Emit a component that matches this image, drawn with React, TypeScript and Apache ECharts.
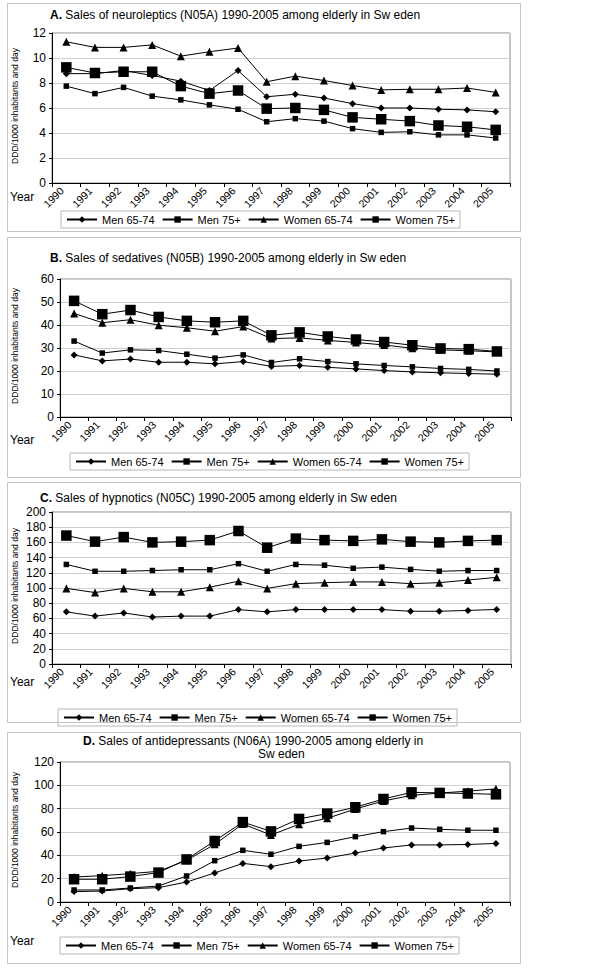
import React, { useEffect, useRef } from "react";
import * as echarts from "echarts";

const years = ["1990", "1991", "1992", "1993", "1994", "1995", "1996", "1997", "1998", "1999", "2000", "2001", "2002", "2003", "2004", "2005"];
const seriesNames = ["Men 65-74", "Men 75+", "Women 65-74", "Women 75+"];

// A. Neuroleptics (N05A)
const neuroMen6574 = [8.75, 8.75, 9.0, 8.6, 8.15, 7.4, 9.0, 6.9, 7.1, 6.8, 6.35, 6.0, 6.0, 5.9, 5.85, 5.7];
const neuroMen75 = [7.75, 7.15, 7.65, 6.95, 6.65, 6.25, 5.9, 4.9, 5.15, 4.95, 4.35, 4.05, 4.1, 3.85, 3.85, 3.6];
const neuroWomen6574 = [11.3, 10.85, 10.85, 11.05, 10.15, 10.5, 10.8, 8.1, 8.55, 8.2, 7.8, 7.45, 7.5, 7.5, 7.6, 7.25];
const neuroWomen75 = [9.25, 8.8, 8.9, 8.9, 7.75, 7.15, 7.4, 5.95, 6.0, 5.85, 5.25, 5.1, 4.95, 4.6, 4.5, 4.25];
const neuroTicks = [0, 2, 4, 6, 8, 10, 12];

// B. Sedatives (N05B)
const sedMen6574 = [27.0, 24.4, 25.2, 23.8, 23.8, 23.1, 24.1, 22.0, 22.4, 21.6, 20.9, 20.2, 19.6, 19.2, 18.9, 18.6];
const sedMen75 = [33.0, 27.8, 29.2, 28.9, 27.3, 25.6, 27.0, 23.7, 25.3, 24.1, 23.1, 22.4, 21.8, 21.1, 20.7, 20.0];
const sedWomen6574 = [45.0, 41.0, 42.3, 39.9, 38.8, 37.3, 39.3, 34.1, 34.4, 33.3, 32.4, 31.3, 29.9, 29.2, 28.8, 28.3];
const sedWomen75 = [50.5, 44.7, 46.5, 43.5, 41.8, 41.2, 41.8, 35.5, 36.8, 35.0, 33.7, 32.6, 31.2, 29.8, 29.5, 28.5];
const sedTicks = [0, 10, 20, 30, 40, 50, 60];

// C. Hypnotics (N05C)
const hypMen6574 = [68.6, 63, 67.2, 61.8, 63, 63, 71.6, 68.6, 71.6, 71.6, 71.6, 71.6, 69.4, 69.4, 70.5, 71.8];
const hypMen75 = [131, 122, 122, 123, 124, 124, 132, 122, 131, 130, 126, 127.5, 124.5, 122, 123, 123];
const hypWomen6574 = [99.5, 94, 99.5, 95, 95, 101, 109, 99.5, 105.7, 107, 108, 108, 105.7, 107, 110.5, 114];
const hypWomen75 = [169, 161, 167, 160, 161, 163, 175, 153, 165, 163, 162, 164, 161, 160, 162, 163];
const hypTicks = [0, 20, 40, 60, 80, 100, 120, 140, 160, 180, 200];

// D. Antidepressants (N06A)
const antiMen6574 = [8.9, 9.4, 11.4, 12.3, 17.1, 24.9, 33.1, 30.3, 35.1, 37.7, 42, 46.3, 48.9, 48.9, 49.3, 50.2];
const antiMen75 = [10.3, 10.3, 12, 13.7, 22.3, 35.4, 44.3, 40.9, 47.7, 51.1, 56, 60.3, 63.4, 62.3, 61.5, 61.5];
const antiWomen6574 = [21.4, 22.6, 24.3, 26.3, 35.7, 49.4, 66.9, 57.4, 66.6, 71.7, 79.7, 86.6, 91.4, 93.4, 95, 97];
const antiWomen75 = [19.5, 19.5, 21.8, 25.2, 36.5, 52.3, 68.5, 60.5, 71.2, 75.8, 81.2, 88.3, 94, 93.5, 93, 92.3];
const antiTicks = [0, 20, 40, 60, 80, 100, 120];

const titleLetters = ["A.", "B.", "C.", "D."];
const titleTexts = [
  " Sales of neuroleptics (N05A) 1990-2005 among elderly in Sw eden",
  " Sales of sedatives (N05B) 1990-2005 among elderly in Sw eden",
  " Sales of hypnotics (N05C) 1990-2005 among elderly in Sw eden",
  " Sales of antidepressants (N06A) 1990-2005 among elderly in",
];
const titleDSecondLine = "Sw eden";
const yAxisName = "DDD/1000 inhabitants and day";
const yearLabel = "Year";

const FONT = "Liberation Sans";

export default function App() {
  const ref = useRef<HTMLDivElement>(null);

  useEffect(() => {
    const chart = echarts.init(ref.current!, null, { renderer: "svg" });

    const panelData = [
      [neuroMen6574, neuroMen75, neuroWomen6574, neuroWomen75],
      [sedMen6574, sedMen75, sedWomen6574, sedWomen75],
      [hypMen6574, hypMen75, hypWomen6574, hypWomen75],
      [antiMen6574, antiMen75, antiWomen6574, antiWomen75],
    ];
    const panelTicks = [neuroTicks, sedTicks, hypTicks, antiTicks];

    // layout
    const boxes = [
      { y: 3, h: 228 },
      { y: 237, h: 240 },
      { y: 482, h: 240 },
      { y: 732, h: 231 },
    ];
    const grids = [
      { left: 52, top: 33, width: 458, height: 150 },
      { left: 60, top: 279, width: 451, height: 138 },
      { left: 52, top: 512, width: 459, height: 152 },
      { left: 60, top: 762, width: 450, height: 140 },
    ];
    const legendPos = [
      { left: 61, top: 211 },
      { left: 70, top: 453 },
      { left: 58, top: 709 },
      { left: 60, top: 937 },
    ];
    const titlePos = [
      { x: 50, y: 15 },
      { x: 50, y: 258 },
      { x: 40, y: 498 },
      { x: 83, y: 741 },
    ];
    const titleD2Pos = { x: 258, y: 754 };
    const yearY = [197, 440, 682, 941];

    const symbols = [
      { symbol: "diamond", size: 7 },
      { symbol: "rect", size: 5.5 },
      { symbol: "triangle", size: 8 },
      { symbol: "rect", size: 10.5 },
    ];

    const series: any[] = [];
    panelData.forEach((arrs, p) => {
      arrs.forEach((vals, k) => {
        series.push({
          type: "line",
          name: seriesNames[k],
          xAxisIndex: p,
          yAxisIndex: p,
          data: vals,
          symbol: symbols[k].symbol,
          symbolSize: symbols[k].size,
          showSymbol: true,
          lineStyle: { color: "#000", width: 1 },
          itemStyle: { color: "#000" },
          emphasis: { disabled: true },
          z: 3 + k,
        });
      });
    });

    const graphics: any[] = [];
    boxes.forEach((b) => {
      graphics.push({
        type: "rect",
        shape: { x: 7.5, y: b.y + 0.5, width: 513, height: b.h },
        style: { fill: "none", stroke: "#c4c4c4", lineWidth: 1 },
        z: 0,
        silent: true,
      });
    });
    titlePos.forEach((t, p) => {
      graphics.push({
        type: "text",
        x: t.x,
        y: t.y,
        style: {
          text: "{b|" + titleLetters[p] + "}" + titleTexts[p],
          rich: { b: { fontWeight: "bold", fontSize: 12, fontFamily: FONT, fill: "#000" } },
          fontSize: 12,
          fontFamily: FONT,
          fill: "#000",
          align: "left",
          verticalAlign: "middle",
        },
        z: 10,
      });
    });
    graphics.push({
      type: "text",
      x: titleD2Pos.x,
      y: titleD2Pos.y,
      style: {
        text: titleDSecondLine,
        fontSize: 12,
        fontFamily: FONT,
        fill: "#000",
        align: "left",
        verticalAlign: "middle",
      },
      z: 10,
    });
    grids.forEach((g, p) => {
      graphics.push({
        type: "text",
        x: 15,
        y: g.top + g.height / 2 - 2,
        rotation: Math.PI / 2,
        style: {
          text: yAxisName,
          fontSize: 8.5,
          fontFamily: FONT,
          fill: "#000",
          align: "center",
          verticalAlign: "middle",
        },
        z: 10,
      });
      graphics.push({
        type: "text",
        x: 10,
        y: yearY[p],
        style: {
          text: yearLabel,
          fontSize: 12,
          fontFamily: FONT,
          fill: "#000",
          align: "left",
          verticalAlign: "middle",
        },
        z: 10,
      });
    });

    const option: any = {
      animation: false,
      backgroundColor: "#fff",
      grid: grids.map((g) => ({
        ...g,
        show: true,
        borderColor: "#8c8c8c",
        borderWidth: 1,
        backgroundColor: "transparent",
        containLabel: false,
      })),
      xAxis: grids.map((_, p) => ({
        type: "category",
        gridIndex: p,
        data: years,
        boundaryGap: true,
        axisLine: { show: true, lineStyle: { color: "#000", width: 1 } },
        axisTick: { show: true, length: 4, lineStyle: { color: "#000" } },
        axisLabel: {
          interval: 0,
          rotate: 45,
          fontSize: 10.5,
          fontFamily: FONT,
          color: "#000",
          margin: 2,
          padding: [0, 6, 0, 0],
        },
        splitLine: { show: false },
      })),
      yAxis: grids.map((_, p) => {
        const t = panelTicks[p];
        return {
          type: "value",
          gridIndex: p,
          min: t[0],
          max: t[t.length - 1],
          interval: t[1] - t[0],
          axisLine: { show: true, lineStyle: { color: "#000", width: 1 } },
          axisTick: { show: true, length: 3, lineStyle: { color: "#000" } },
          axisLabel: { fontSize: 12, fontFamily: FONT, color: "#000", margin: 6 },
          splitLine: { show: true, lineStyle: { color: "#cfcfcf", width: 1 } },
        };
      }),
      legend: legendPos.map((l) => ({
        ...l,
        orient: "horizontal",
        data: seriesNames,
        itemWidth: 30,
        itemHeight: 8,
        itemGap: 7,
        padding: [3, 5, 3, 5],
        borderColor: "#b8b8b8",
        borderWidth: 1,
        selectedMode: false,
        textStyle: { fontSize: 11, fontFamily: FONT, color: "#000" },
      })),
      series,
      graphic: graphics,
    };

    chart.setOption(option);
    return () => chart.dispose();
  }, []);

  return (
    <div
      ref={ref}
      style={{ position: "absolute", left: 0, top: 0, width: 600, height: 972, background: "#fff" }}
    />
  );
}
